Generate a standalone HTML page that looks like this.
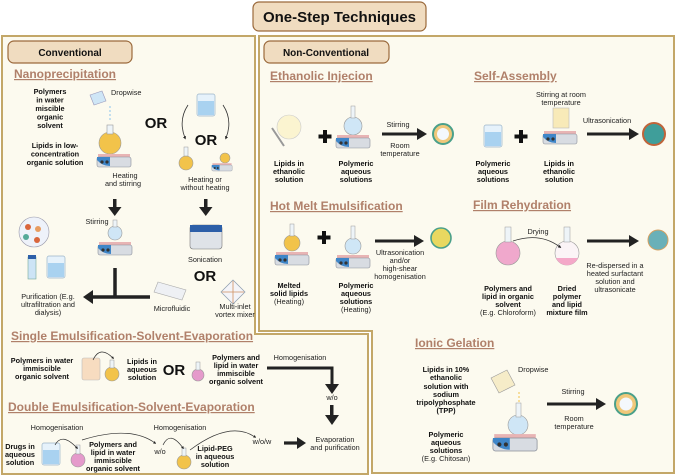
<!DOCTYPE html>
<html><head><meta charset="utf-8"><style>
html,body{margin:0;padding:0;background:#fff;width:676px;height:476px;overflow:hidden}
svg{display:block;font-family:"Liberation Sans",sans-serif}
.h{font-size:12px;font-weight:bold;fill:#b0806a;text-decoration:underline}
.b{font-size:7.3px;font-weight:bold;fill:#111}
.n{font-size:7.3px;fill:#222}
.or{font-size:15px;font-weight:bold;fill:#111}
</style></head><body>
<svg width="676" height="476" viewBox="0 0 676 476">
<defs>
<marker id="ar" markerWidth="4" markerHeight="4" refX="2" refY="2" orient="auto" markerUnits="strokeWidth"><path d="M0,0L4,2L0,4z" fill="#222"/></marker>
<marker id="as" markerWidth="6" markerHeight="6" refX="5" refY="3" orient="auto" markerUnits="userSpaceOnUse"><path d="M0,0L6,3L0,6z" fill="#222"/></marker>
<g id="hp"><rect x="-16" y="-3" width="32" height="4" fill="#e8b4b4"/><rect x="-17" y="0" width="34" height="10" rx="2" fill="#d8dce2" stroke="#8a8f99" stroke-width=".6"/><path d="M-17,3 Q-12,9 -4,9 L-4,0 L-17,0z" fill="#3f86c8"/><circle cx="-12" cy="5" r="1.6" fill="#333"/><circle cx="-7" cy="5" r="1.6" fill="#333"/></g>
<g id="beak"><rect x="-9" y="-11" width="18" height="22" rx="2" fill="#e6f2fb" stroke="#9ab4c8" stroke-width=".7"/><rect x="-8" y="-4" width="16" height="14" fill="#a9d2f0"/></g>
</defs>
<!-- panels -->
<path d="M2,36H255V334H368V474H2Z" fill="#fcfaef" stroke="#c3a768" stroke-width="2"/>
<path d="M259,36H674V473H372V331H259Z" fill="#fcfaef" stroke="#c3a768" stroke-width="2"/>
<!-- title -->
<rect x="253" y="2" width="173" height="29" rx="6" fill="#f0dcc0" stroke="#9b6a3c" stroke-width="1.2"/>
<text x="339.5" y="22" text-anchor="middle" font-size="15" font-weight="bold" fill="#111">One-Step Techniques</text>
<rect x="8" y="41" width="124" height="22" rx="6" fill="#f0dcc0" stroke="#9b6a3c" stroke-width="1.2"/>
<text x="70" y="56" text-anchor="middle" font-size="10" font-weight="bold" fill="#111">Conventional</text>
<rect x="264" y="41" width="125" height="22" rx="6" fill="#f0dcc0" stroke="#9b6a3c" stroke-width="1.2"/>
<text x="326" y="56" text-anchor="middle" font-size="10" font-weight="bold" fill="#111">Non-Conventional</text>

<!-- Nanoprecipitation -->
<text x="14" y="78" class="h">Nanoprecipitation</text>
<g class="b" text-anchor="middle"><text x="50" y="94">Polymers</text><text x="50" y="102.5">in water</text><text x="50" y="111">miscible</text><text x="50" y="119.5">organic</text><text x="50" y="128">solvent</text>
<text x="55" y="148">Lipids in low-</text><text x="55" y="156.5">concentration</text><text x="55" y="165">organic solution</text></g>
<text x="111" y="95" class="n">Dropwise</text>
<path d="M90,95l12,-4 4,10 -12,4z" fill="#cfe6f6" stroke="#99b" stroke-width=".6"/>
<line x1="110" y1="106" x2="110" y2="122" stroke="#8cc4ec" stroke-dasharray="2,2"/>
<circle cx="110" cy="143" r="11" fill="#f2c34a" stroke="#999" stroke-width=".6"/><rect x="107" y="125" width="6" height="9" fill="#eef4f8" stroke="#999" stroke-width=".6"/>
<use href="#hp" x="114" y="157"/>
<g class="n" text-anchor="middle"><text x="125" y="178">Heating</text><text x="123" y="186">and stirring</text></g>
<text x="156" y="128" class="or" text-anchor="middle">OR</text>
<text x="206" y="145" class="or" text-anchor="middle">OR</text>
<use href="#beak" x="206" y="105"/>
<path d="M188,105 Q178,120 185,138" fill="none" stroke="#333" stroke-width=".8" marker-end="url(#ar)"/>
<path d="M223,105 Q233,120 226,138" fill="none" stroke="#333" stroke-width=".8" marker-end="url(#ar)"/>
<circle cx="186" cy="163" r="7" fill="#f2c34a" stroke="#999" stroke-width=".6"/><rect x="184" y="147" width="4" height="9" fill="#eef4f8" stroke="#999" stroke-width=".5"/>
<circle cx="225" cy="158" r="5" fill="#f2c34a" stroke="#999" stroke-width=".6"/><g transform="translate(222,165) scale(.6)"><use href="#hp"/></g>
<g class="n" text-anchor="middle"><text x="205" y="182">Heating or</text><text x="205" y="190">without heating</text></g>
<g fill="#222"><rect x="113" y="199" width="3.5" height="10"/><path d="M108,207h13.5l-6.75,9z"/><rect x="204" y="199" width="3.5" height="10"/><path d="M199,207h13.5l-6.75,9z"/></g>
<text x="97" y="224" class="n" text-anchor="middle">Stirring</text>
<circle cx="115" cy="233" r="7" fill="#cfe6f6" stroke="#999" stroke-width=".6"/><rect x="113" y="220" width="4" height="7" fill="#eef4f8" stroke="#999" stroke-width=".5"/>
<use href="#hp" x="115" y="245"/>
<rect x="190" y="225" width="32" height="24" rx="3" fill="#dfe3e8" stroke="#777" stroke-width=".6"/><rect x="190" y="225" width="32" height="7" fill="#2d5fa8"/>
<text x="205" y="262" class="n" text-anchor="middle">Sonication</text>
<text x="205" y="281" class="or" text-anchor="middle">OR</text>
<path d="M158,282l28,8 -4,10 -28,-8z" fill="#eef0f4" stroke="#aaa" stroke-width=".6"/>
<text x="172" y="311" class="n" text-anchor="middle">Microfluidic</text>
<path d="M233,280l12,12 -12,12 -12,-12z" fill="#f4f4f8" stroke="#89a" stroke-width=".7"/><path d="M233,281v22M222,292h22" stroke="#d09060" stroke-width=".8"/>
<g class="n" text-anchor="middle"><text x="235" y="309">Multi-inlet</text><text x="235" y="317">vortex mixer</text></g>
<circle cx="34" cy="232" r="15" fill="#eef2fa" stroke="#99a" stroke-width=".6"/><circle cx="28" cy="227" r="3" fill="#d9663c"/><circle cx="38" cy="229" r="3" fill="#e89c60"/><circle cx="26" cy="237" r="3" fill="#5a9"/><circle cx="37" cy="240" r="3" fill="#d9663c"/>
<rect x="28" y="257" width="8" height="22" fill="#cde4f6" stroke="#7a9" stroke-width=".6"/><rect x="28" y="255" width="8" height="4" fill="#2d5fa8"/>
<use href="#beak" x="56" y="267"/>
<g class="n" text-anchor="middle"><text x="48" y="299">Purification (E.g.</text><text x="48" y="307">ultrafiltration and</text><text x="48" y="315">dialysis)</text></g>
<path d="M115,268V297H150M115,297H92" stroke="#222" stroke-width="3.5" fill="none"/><path d="M93,290v14l-10,-7z" fill="#222"/>

<!-- Single emulsification -->
<text x="11" y="340" class="h">Single Emulsification-Solvent-Evaporation</text>
<g class="b" text-anchor="middle"><text x="42" y="363">Polymers in water</text><text x="42" y="371">immiscible</text><text x="42" y="379">organic solvent</text>
<text x="142" y="364">Lipids in</text><text x="142" y="372">aqueous</text><text x="142" y="380">solution</text>
<text x="236" y="360">Polymers and</text><text x="236" y="368">lipid in water</text><text x="236" y="376">immiscible</text><text x="236" y="384">organic solvent</text></g>
<rect x="82" y="358" width="18" height="22" rx="2" fill="#f7dcc0" stroke="#bbb" stroke-width=".6"/>
<circle cx="112" cy="374" r="7" fill="#f2c34a" stroke="#999" stroke-width=".6"/><rect x="110" y="360" width="4" height="8" fill="#eef4f8" stroke="#999" stroke-width=".5"/>
<path d="M93,360 Q100,345 113,358" fill="none" stroke="#333" stroke-width=".7" marker-end="url(#ar)"/>
<text x="174" y="375" class="or" text-anchor="middle">OR</text>
<circle cx="198" cy="375" r="6" fill="#e59acb" stroke="#999" stroke-width=".6"/><rect x="196" y="362" width="4" height="8" fill="#eef4f8" stroke="#999" stroke-width=".5"/>
<text x="300" y="360" class="n" text-anchor="middle">Homogenisation</text>
<path d="M267,368H332V386" stroke="#222" stroke-width="3" fill="none"/><path d="M325,384h14l-7,10z" fill="#222"/>
<text x="332" y="400" class="n" text-anchor="middle">w/o</text>
<rect x="330" y="405" width="3.5" height="12" fill="#222"/><path d="M325,415h14l-7,10z" fill="#222"/>

<!-- Double emulsification -->
<text x="8" y="411" class="h">Double Emulsification-Solvent-Evaporation</text>
<g class="n" text-anchor="middle"><text x="57" y="430">Homogenisation</text><text x="180" y="430">Homogenisation</text><text x="160" y="454">w/o</text><text x="262" y="444">w/o/w</text><text x="335" y="442">Evaporation</text><text x="335" y="450">and purification</text></g>
<g class="b" text-anchor="middle"><text x="20" y="449">Drugs in</text><text x="20" y="457">aqueous</text><text x="20" y="465">solution</text>
<text x="113" y="447">Polymers and</text><text x="113" y="455">lipid in water</text><text x="113" y="463">immiscible</text><text x="113" y="471">organic solvent</text>
<text x="215" y="451">Lipid-PEG</text><text x="215" y="459">in aqueous</text><text x="215" y="467">solution</text></g>
<use href="#beak" x="51" y="454"/>
<circle cx="78" cy="460" r="7" fill="#e59acb" stroke="#999" stroke-width=".6"/><rect x="76" y="445" width="4" height="9" fill="#eef4f8" stroke="#999" stroke-width=".5"/>
<circle cx="184" cy="462" r="7" fill="#f2c34a" stroke="#999" stroke-width=".6"/><rect x="182" y="448" width="4" height="8" fill="#eef4f8" stroke="#999" stroke-width=".5"/>
<path d="M55,445 Q62,432 77,448" fill="none" stroke="#333" stroke-width=".7" marker-end="url(#ar)"/>
<path d="M82,440 Q130,425 155,443" fill="none" stroke="#333" stroke-width=".7" marker-end="url(#ar)"/>
<path d="M163,445 Q170,430 183,448" fill="none" stroke="#333" stroke-width=".7" marker-end="url(#ar)"/>
<path d="M190,450 Q230,420 255,437" fill="none" stroke="#333" stroke-width=".7" marker-end="url(#ar)"/>
<path d="M284,443H298" stroke="#222" stroke-width="3.2"/><path d="M297,437v12l9,-6z" fill="#222"/>

<!-- Ethanolic injection -->
<text x="270" y="80" class="h">Ethanolic Injecion</text>
<text x="474" y="80" class="h">Self-Assembly</text>
<circle cx="289" cy="127" r="12" fill="#fbf4d0" stroke="#ccc" stroke-width=".6"/><path d="M272,128l12,18" stroke="#999" stroke-width="2"/>
<g class="b" text-anchor="middle"><text x="289" y="166">Lipids in</text><text x="289" y="174">ethanolic</text><text x="289" y="182">solution</text>
<text x="356" y="166">Polymeric</text><text x="356" y="174">aqueous</text><text x="356" y="182">solutions</text>
<text x="493" y="166">Polymeric</text><text x="493" y="174">aqueous</text><text x="493" y="182">solutions</text>
<text x="559" y="166">Lipids in</text><text x="559" y="174">ethanolic</text><text x="559" y="182">solution</text></g>
<path d="M325,130v13M318.5,136.5h13" stroke="#111" stroke-width="4"/>
<path d="M521,130v13M514.5,136.5h13" stroke="#111" stroke-width="4"/>
<circle cx="353" cy="126" r="9" fill="#cfe6f6" stroke="#999" stroke-width=".6"/><rect x="351" y="106" width="4" height="12" fill="#eef4f8" stroke="#999" stroke-width=".5"/>
<use href="#hp" x="353" y="138"/>
<text x="398" y="127" class="n" text-anchor="middle">Stirring</text>
<path d="M382,134H418" stroke="#222" stroke-width="3"/><path d="M417,128v12l10,-6z" fill="#222"/>
<g class="n" text-anchor="middle"><text x="400" y="148">Room</text><text x="400" y="156">temperature</text></g>
<circle cx="443" cy="134" r="10" fill="#f0c87a" stroke="#4aa08a" stroke-width="2"/><circle cx="443" cy="134" r="6" fill="#f4f8fc"/>
<use href="#beak" x="493" y="136"/>
<rect x="553" y="108" width="16" height="20" fill="#f8eab8" stroke="#bbb" stroke-width=".6"/>
<use href="#hp" x="560" y="134"/>
<g class="n" text-anchor="middle"><text x="561" y="97">Stirring at room</text><text x="561" y="105">temperature</text><text x="607" y="123">Ultrasonication</text></g>
<path d="M587,134H630" stroke="#222" stroke-width="3"/><path d="M629,128v12l10,-6z" fill="#222"/>
<circle cx="654" cy="134" r="11" fill="#3f9e9a" stroke="#c0643a" stroke-width="2"/>

<!-- Hot melt -->
<text x="270" y="210" class="h">Hot Melt Emulsification</text>
<text x="473" y="209" class="h">Film Rehydration</text>
<circle cx="292" cy="243" r="8" fill="#f2c34a" stroke="#999" stroke-width=".6"/><rect x="290" y="224" width="4" height="12" fill="#eef4f8" stroke="#999" stroke-width=".5"/>
<use href="#hp" x="292" y="255"/>
<path d="M324,231v13M317.5,237.5h13" stroke="#111" stroke-width="4"/>
<circle cx="353" cy="246" r="8" fill="#cfe6f6" stroke="#999" stroke-width=".6"/><rect x="351" y="226" width="4" height="13" fill="#eef4f8" stroke="#999" stroke-width=".5"/>
<use href="#hp" x="353" y="258"/>
<g class="b" text-anchor="middle"><text x="289" y="288">Melted</text><text x="289" y="296">solid lipids</text>
<text x="356" y="288">Polymeric</text><text x="356" y="296">aqueous</text><text x="356" y="304">solutions</text></g>
<g class="n" text-anchor="middle"><text x="289" y="304">(Heating)</text><text x="356" y="312">(Heating)</text>
<text x="400" y="255">Ultrasonication</text><text x="400" y="263">and/or</text><text x="400" y="271">high-shear</text><text x="400" y="279">homogenisation</text></g>
<path d="M375,241H415" stroke="#222" stroke-width="3"/><path d="M414,235v12l10,-6z" fill="#222"/>
<circle cx="441" cy="238" r="10" fill="#e8d860" stroke="#4aa08a" stroke-width="1.6"/>
<circle cx="508" cy="253" r="12" fill="#f0a8cc" stroke="#999" stroke-width=".6"/><rect x="505" y="227" width="6" height="15" fill="#eef4f8" stroke="#999" stroke-width=".5"/>
<circle cx="567" cy="253" r="12" fill="#fbf4f6" stroke="#999" stroke-width=".6"/><path d="M556,258h22a12,12 0 0 1 -22,0z" fill="#f4a8c8"/><rect x="564" y="227" width="6" height="15" fill="#eef4f8" stroke="#999" stroke-width=".5"/>
<text x="538" y="234" class="n" text-anchor="middle">Drying</text>
<path d="M513,241 Q540,232 560,247" fill="none" stroke="#333" stroke-width=".8" marker-end="url(#ar)"/>
<g class="b" text-anchor="middle"><text x="508" y="291">Polymers and</text><text x="508" y="299">lipid in organic</text><text x="508" y="307">solvent</text>
<text x="567" y="291">Dried</text><text x="567" y="299">polymer</text><text x="567" y="307">and lipid</text><text x="567" y="315">mixture film</text></g>
<text x="508" y="315" class="n" text-anchor="middle">(E.g. Chloroform)</text>
<path d="M587,241H630" stroke="#222" stroke-width="3"/><path d="M629,235v12l10,-6z" fill="#222"/>
<circle cx="658" cy="240" r="10" fill="#6ab0b8" stroke="#d6a060" stroke-width="1"/>
<g class="n" text-anchor="middle"><text x="615" y="268">Re-dispersed in a</text><text x="615" y="276">heated surfactant</text><text x="615" y="284">solution and</text><text x="615" y="292">ultrasonicate</text></g>

<!-- Ionic gelation -->
<text x="415" y="347" class="h">Ionic Gelation</text>
<g class="b" text-anchor="middle"><text x="446" y="372">Lipids in 10%</text><text x="446" y="380">ethanolic</text><text x="446" y="389">solution with</text><text x="446" y="397">sodium</text><text x="446" y="405">tripolyphosphate</text><text x="446" y="413">(TPP)</text>
<text x="446" y="437">Polymeric</text><text x="446" y="445">aqueous</text><text x="446" y="453">solutions</text></g>
<text x="446" y="461" class="n" text-anchor="middle">(E.g. Chitosan)</text>
<path d="M491,378l16,-8 8,15 -16,8z" fill="#f6ecc8" stroke="#999" stroke-width=".6"/>
<text x="518" y="372" class="n">Dropwise</text>
<line x1="519" y1="392" x2="519" y2="412" stroke="#f2c34a" stroke-dasharray="2,2"/>
<circle cx="518" cy="425" r="10" fill="#cfe6f6" stroke="#999" stroke-width=".6"/><rect x="516" y="403" width="5" height="14" fill="#eef4f8" stroke="#999" stroke-width=".5"/>
<g transform="translate(515,438) scale(1.3)"><use href="#hp"/></g>
<text x="573" y="394" class="n" text-anchor="middle">Stirring</text>
<path d="M547,404H597" stroke="#222" stroke-width="3"/><path d="M596,398v12l10,-6z" fill="#222"/>
<g class="n" text-anchor="middle"><text x="574" y="421">Room</text><text x="574" y="429">temperature</text></g>
<circle cx="626" cy="404" r="11" fill="#f0c87a" stroke="#4aa08a" stroke-width="2"/><circle cx="626" cy="404" r="6.5" fill="#f4f8fc"/>
</svg>
</body></html>
